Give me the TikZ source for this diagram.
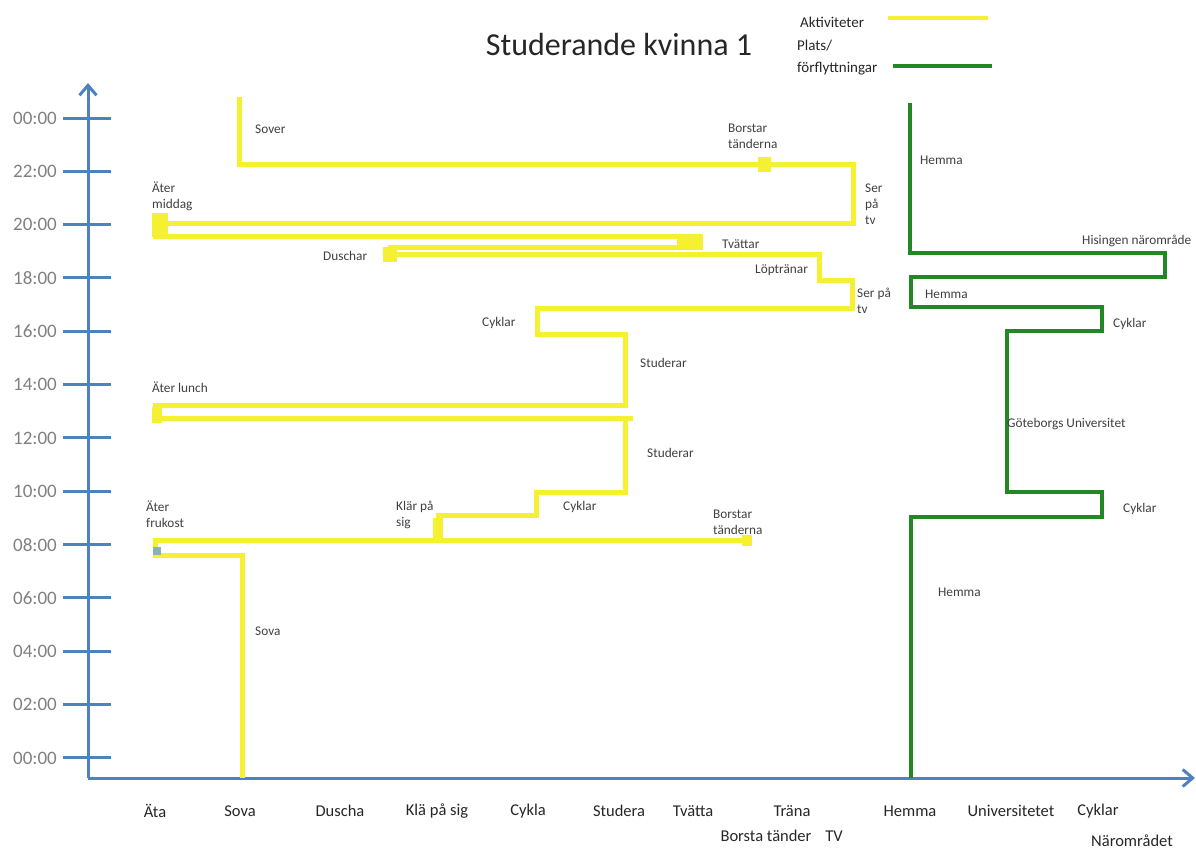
\documentclass[tikz,border=0pt]{standalone}
\usepackage{fontspec}
\setmainfont{Carlito}
\usetikzlibrary{arrows.meta}
\definecolor{axelbla}{RGB}{79,129,189}
\definecolor{aktgul}{RGB}{245,240,50}
\definecolor{platsgron}{RGB}{35,135,35}
\definecolor{tidgra}{RGB}{128,128,128}
\definecolor{textgra}{RGB}{64,64,64}

\begin{document}
\begin{tikzpicture}[x=1pt,y=-1pt,
    axel/.style={draw=axelbla,line width=3pt},
    akt/.style={draw=aktgul,line width=5pt},
    plats/.style={draw=platsgron,line width=3.5pt},
    block/.style={fill=aktgul},
    lbl/.style={anchor=west,align=left,text=textgra,inner sep=0pt,
                font=\fontsize{13.3}{16}\selectfont},
    kat/.style={text=black!85,inner sep=0pt,font=\fontsize{16.5}{19}\selectfont},
    tid/.style={anchor=east,text=tidgra,inner sep=0pt,
                font=\fontsize{19}{22}\selectfont}]

  \useasboundingbox (0,0) rectangle (1196,852);

  % axlar
  \draw[axel,-{Straight Barb[length=10pt,width=17pt]}] (88,778) -- (88,83);
  \draw[axel,-{Straight Barb[length=10pt,width=17pt]}] (88,778) -- (1195,778);
  \foreach \t [count=\i from 0] in
      {00:00,22:00,20:00,18:00,16:00,14:00,12:00,10:00,08:00,06:00,04:00,02:00,00:00}
  {
    \draw[axel] (63,{118+53.33*\i}) -- (111,{118+53.33*\i});
    \node[tid] (t\i) at (57,{118+53.33*\i}) {\t};
  }

  % kategorier
  \node[kat] (ata)   at (155,811)  {Äta};
  \node[kat] (sova)  at (240,811)  {Sova};
  \node[kat] (dusch) at (340,811)  {Duscha};
  \node[kat] (kla)   at (437,811)  {Klä på sig};
  \node[kat] (cykla) at (528,811)  {Cykla};
  \node[kat] (stud)  at (619,811)  {Studera};
  \node[kat] (tvatt) at (693,811)  {Tvätta};
  \node[kat] (trana) at (792,811)  {Träna};
  \node[kat] (borst) at (766,836)  {Borsta tänder};
  \node[kat] (tv)    at (834,836)  {TV};
  \node[kat] (hem)   at (910,811)  {Hemma};
  \node[kat] (univ)  at (1011,811) {Universitetet};
  \node[kat] (cyk)   at (1098,811) {Cyklar};
  \node[kat] (nara)  at (1132,841) {Närområdet};

  % rubrik och teckenförklaring
  \node[text=black!85,font=\fontsize{32}{38}\selectfont] (titel) at (619,45)
    {Studerande kvinna 1};
  \node[lbl,text=black!85,font=\fontsize{15}{22}\selectfont] (lakt) at (800,22)
    {Aktiviteter};
  \node[lbl,text=black!85,font=\fontsize{15}{22}\selectfont] (lplats) at (797,58)
    {Plats/\\förflyttningar};
  \draw[akt,line width=4pt] (888,18) -- (988,18);
  \draw[plats] (893,66) -- (992,66);

  % aktiviteter
  \draw[akt] (242,778) -- (242,555) -- (155,555) -- (155,540) -- (750,540);
  \draw[akt] (438,540) -- (438,515) -- (536,515) -- (536,492) -- (625,492)
    -- (625,418);
  \draw[akt] (633,418) -- (155,418) -- (155,405) -- (625,405) -- (625,334)
    -- (537,334) -- (537,308) -- (852,308) -- (852,280) -- (819,280)
    -- (819,254) -- (390,254) -- (390,247) -- (700,247) -- (700,236)
    -- (155,236) -- (155,223) -- (853,223) -- (853,164) -- (239,164)
    -- (239,97);
  \fill[block] (152,213) rectangle (168,237);
  \fill[block] (677,234) rectangle (702,250);
  \fill[block] (383,247) rectangle (397,262);
  \fill[block] (758,157) rectangle (771,172);
  \fill[block] (152,407) rectangle (162,423);
  \fill[block] (433,518) rectangle (443,542);
  \fill[block] (742,535) rectangle (752,546);
  \fill[fill={rgb,255:red,140;green,175;blue,190}] (153,547) rectangle (161,555);

  \node[lbl] (sover)   at (255,129) {Sover};
  \node[lbl] (borstk)  at (728,136) {Borstar\\tänderna};
  \node[lbl] (tvk)     at (865,204) {Ser\\på\\tv};
  \node[lbl] (middag)  at (152,196) {Äter\\middag};
  \node[lbl] (duschar) at (323,256) {Duschar};
  \node[lbl] (tvattar) at (722,244) {Tvättar};
  \node[lbl] (lopt)    at (755,270) {Löptränar};
  \node[lbl] (tve)     at (857,301) {Ser på\\tv};
  \node[lbl] (cykle)   at (482,323) {Cyklar};
  \node[lbl] (stude)   at (640,363) {Studerar};
  \node[lbl] (lunch)   at (152,387) {Äter lunch};
  \node[lbl] (studf)   at (647,453) {Studerar};
  \node[lbl] (cyklf)   at (563,507) {Cyklar};
  \node[lbl] (borstm)  at (713,522) {Borstar\\tänderna};
  \node[lbl] (frukost) at (146,514) {Äter\\frukost};
  \node[lbl] (klar)    at (396,515) {Klär på\\sig};
  \node[lbl] (sovan)   at (255,631) {Sova};

  % platser
  \draw[plats] (910,103) -- (910,253) -- (1165,253) -- (1165,277) -- (911,277)
    -- (911,307) -- (1102,307) -- (1102,331) -- (1007,331) -- (1007,492)
    -- (1102,492) -- (1102,517) -- (911,517) -- (911,778);

  \node[lbl] (hemk)  at (920,160)  {Hemma};
  \node[lbl] (hisin) at (1082,241) {Hisingen närområde};
  \node[lbl] (heme)  at (925,294)  {Hemma};
  \node[lbl] (cyke)  at (1113,324) {Cyklar};
  \node[lbl] (gu)    at (1007,424) {Göteborgs Universitet};
  \node[lbl] (cykm)  at (1123,509) {Cyklar};
  \node[lbl] (hemm)  at (938,592)  {Hemma};
\end{tikzpicture}
\end{document}
